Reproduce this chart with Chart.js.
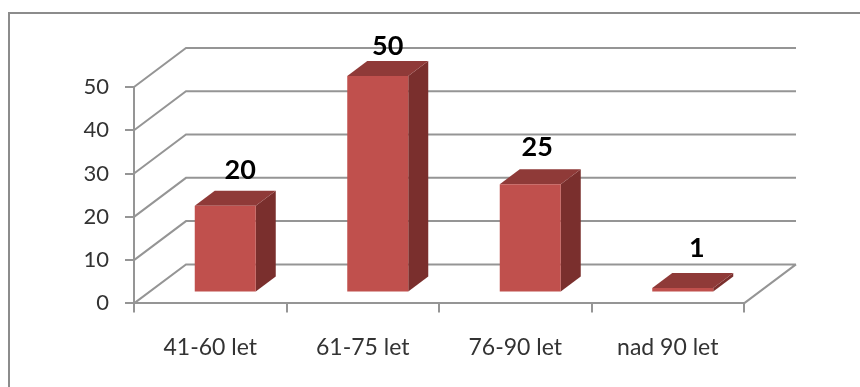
<!DOCTYPE html>
<html>
<head>
<meta charset="utf-8">
<style>
  html, body { margin: 0; padding: 0; background: #fff; }
  #wrap { width: 860px; height: 387px; }
  canvas { filter: blur(0.35px); }
</style>
<script src="https://cdn.jsdelivr.net/npm/chart.js@4"></script>
</head>
<body>
<div id="wrap"><canvas id="chart" width="860" height="387"></canvas></div>
<script>
const ageGroups = ['41-60 let', '61-75 let', '76-90 let', 'nad 90 let'];
const counts = [20, 50, 25, 1];
const yTicks = [0, 10, 20, 30, 40, 50];

// depth of the fake 3d box, bars sit a bit inside of it
const wallDepth = { x: 52, y: -39 };
const barInset = { x: 15, y: -11 };
const barDepth = { x: 20, y: -15 };
const labelNudge = [[15, -36], [10, -30], [7, -37], [14, -40]];

const gridColor = '#959595';
const barFront = '#c0504d';
const barTop = '#8f3a38';
const barSide = '#7a2f2d';

function poly(ctx, points, fill) {
  ctx.beginPath();
  points.forEach((p, i) => i ? ctx.lineTo(p[0], p[1]) : ctx.moveTo(p[0], p[1]));
  ctx.closePath();
  ctx.fillStyle = fill;
  ctx.fill();
}

const frame = {
  id: 'frame',
  beforeDraw(chart) {
    const ctx = chart.ctx;
    ctx.save();
    ctx.strokeStyle = '#8c8c8c';
    ctx.lineWidth = 2;
    ctx.beginPath();
    ctx.moveTo(9, 387);
    ctx.lineTo(9, 13);
    ctx.lineTo(860, 13);
    ctx.stroke();
    ctx.restore();
  }
};

const walls = {
  id: 'walls',
  beforeDatasetsDraw(chart) {
    const ctx = chart.ctx;
    const x = chart.scales.x;
    const y = chart.scales.y;
    ctx.save();
    ctx.strokeStyle = gridColor;
    ctx.lineWidth = 2;
    ctx.beginPath();
    yTicks.forEach(t => {
      const py = y.getPixelForValue(t);
      ctx.moveTo(x.left, py);
      ctx.lineTo(x.left + wallDepth.x, py + wallDepth.y);
      ctx.lineTo(x.right + wallDepth.x, py + wallDepth.y);
    });
    const py0 = y.getPixelForValue(0);
    ctx.moveTo(x.right, py0);
    ctx.lineTo(x.right + wallDepth.x, py0 + wallDepth.y);
    ctx.stroke();
    ctx.restore();
  }
};

const box3d = {
  id: 'box3d',
  beforeDatasetDraw(chart) {
    const ctx = chart.ctx;
    ctx.save();
    ctx.translate(barInset.x, barInset.y);
    chart.getDatasetMeta(0).data.forEach(bar => {
      const l = bar.x - bar.width / 2;
      const r = bar.x + bar.width / 2;
      const t = bar.y;
      const b = bar.base;
      poly(ctx, [[r, t], [r + barDepth.x, t + barDepth.y], [r + barDepth.x, b + barDepth.y], [r, b]], barSide);
      poly(ctx, [[l, t], [l + barDepth.x, t + barDepth.y], [r + barDepth.x, t + barDepth.y], [r, t]], barTop);
    });
  },
  afterDatasetDraw(chart) {
    chart.ctx.restore();
  }
};

const valueLabels = {
  id: 'valueLabels',
  afterDraw(chart) {
    const ctx = chart.ctx;
    ctx.save();
    ctx.font = 'bold 27px Lato';
    ctx.fillStyle = '#000';
    ctx.textAlign = 'center';
    ctx.textBaseline = 'middle';
    chart.getDatasetMeta(0).data.forEach((bar, i) => {
      const px = bar.x + barInset.x + labelNudge[i][0];
      const py = bar.y + barInset.y + labelNudge[i][1];
      ctx.fillText(counts[i], px, py);
    });
    ctx.restore();
  }
};

new Chart(document.getElementById('chart'), {
  type: 'bar',
  data: {
    labels: ageGroups,
    datasets: [{
      data: counts,
      backgroundColor: barFront,
      borderWidth: 0,
      barPercentage: 0.8,
      categoryPercentage: 0.5
    }]
  },
  options: {
    responsive: false,
    animation: false,
    layout: { padding: { left: 0, top: 87, right: 116, bottom: 5 } },
    plugins: { legend: { display: false }, tooltip: { enabled: false } },
    scales: {
      x: {
        grid: { drawOnChartArea: false, drawTicks: true, tickLength: 9, color: gridColor, lineWidth: 2 },
        border: { color: gridColor, width: 2 },
        ticks: { color: '#333', font: { family: 'Lato', size: 23 }, padding: 21, maxRotation: 0 }
      },
      y: {
        min: 0,
        max: 50,
        afterFit(scale) { scale.width = 134; },
        grid: { drawOnChartArea: false, drawTicks: true, tickLength: 9, color: gridColor, lineWidth: 2 },
        border: { color: gridColor, width: 2 },
        ticks: { stepSize: 10, color: '#333', font: { family: 'Lato', size: 22 }, padding: 16 }
      }
    }
  },
  plugins: [frame, walls, box3d, valueLabels]
});
</script>
</body>
</html>
